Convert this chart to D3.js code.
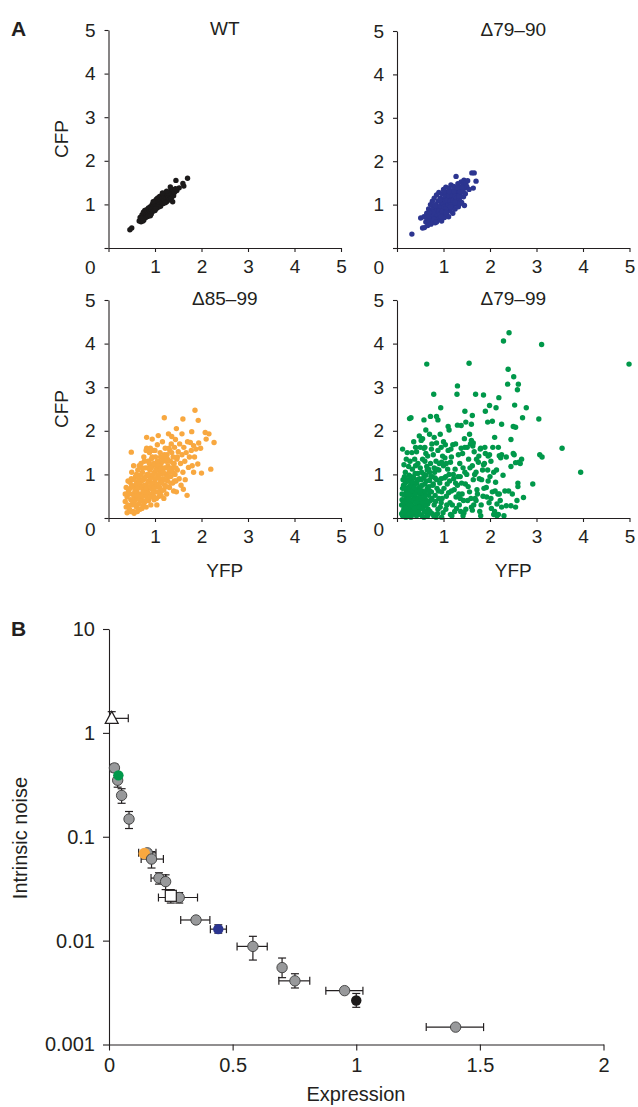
<!DOCTYPE html>
<html><head><meta charset="utf-8">
<script src="https://cdn.jsdelivr.net/npm/d3@7"></script>
<style>body{margin:0;background:#fff}svg{display:block}text{font-family:"Liberation Sans",Arial,Helvetica,sans-serif;fill:#231f20}</style>
</head><body><svg id="c" width="638" height="1107"></svg>
<script>
// ---------- Panel A data: [YFP, CFP] ----------
const wtPoints=[[0.46,0.42],[0.50,0.46],[0.66,0.62],[0.68,0.70],[0.70,0.60],[0.72,0.66],[0.72,0.76],[0.74,0.70],[0.75,0.82],[0.76,0.64],[0.78,0.74],[0.78,0.86],[0.80,0.70],[0.80,0.80],[0.82,0.76],[0.82,0.88],[0.84,0.72],[0.84,0.84],[0.86,0.80],[0.86,0.92],[0.88,0.76],[0.88,0.86],[0.90,0.82],[0.90,0.95],[0.92,0.88],[0.92,0.78],[0.94,0.92],[0.94,1.00],[0.95,0.84],[0.96,0.96],[0.98,0.90],[0.98,1.04],[1.00,0.94],[1.00,1.08],[1.00,0.86],[1.02,1.00],[1.03,1.12],[1.04,0.92],[1.05,1.05],[1.06,1.15],[1.07,0.98],[1.08,1.08],[1.10,1.02],[1.10,1.18],[1.12,1.10],[1.12,0.96],[1.14,1.20],[1.15,1.05],[1.16,1.14],[1.18,1.24],[1.18,1.02],[1.20,1.10],[1.20,1.18],[1.22,1.26],[1.24,1.14],[1.25,1.06],[1.26,1.22],[1.28,1.16],[1.30,1.28],[1.30,1.10],[1.32,1.20],[1.34,1.30],[1.35,1.14],[1.36,1.24],[1.38,1.06],[1.38,1.34],[1.40,1.20],[1.42,1.28],[1.45,1.55],[1.47,1.32],[1.52,1.38],[1.60,1.48],[1.62,1.42],[1.70,1.60],[0.96,1.06],[1.08,0.94],[0.86,0.74],[1.16,1.26],[0.70,0.68],[0.74,0.62],[0.90,0.74],[1.02,0.90],[1.22,1.04],[1.28,1.26],[1.44,1.36],[1.33,1.40],[1.25,1.30]];

const d7990Points=[[0.32,0.32],[0.55,0.46],[0.59,0.47],[0.51,0.69],[0.58,0.72],[0.62,0.60],[0.64,0.80],[0.66,0.52],[0.67,0.68],[0.68,0.90],[0.70,0.62],[0.71,0.76],[0.72,1.00],[0.73,0.55],[0.74,0.85],[0.75,0.68],[0.76,1.08],[0.77,0.60],[0.78,0.92],[0.79,0.74],[0.80,1.15],[0.81,0.82],[0.82,0.58],[0.83,1.00],[0.84,0.70],[0.85,1.22],[0.86,0.88],[0.87,0.64],[0.88,1.08],[0.89,0.78],[0.90,1.28],[0.91,0.95],[0.92,0.70],[0.93,1.15],[0.94,0.85],[0.95,1.05],[0.96,0.62],[0.97,1.25],[0.98,0.92],[0.99,0.78],[1.00,1.12],[1.00,1.35],[1.01,1.00],[1.02,0.70],[1.03,1.20],[1.04,0.88],[1.05,1.40],[1.06,1.05],[1.07,0.78],[1.08,1.28],[1.09,0.95],[1.10,1.15],[1.11,0.72],[1.12,1.38],[1.13,1.02],[1.14,0.86],[1.15,1.25],[1.16,1.45],[1.17,1.10],[1.18,0.92],[1.19,1.32],[1.20,0.80],[1.21,1.18],[1.22,1.42],[1.23,1.00],[1.24,1.28],[1.25,0.90],[1.26,1.12],[1.27,1.65],[1.28,1.35],[1.29,1.02],[1.30,1.22],[1.31,1.48],[1.32,0.95],[1.33,1.30],[1.34,1.12],[1.35,1.40],[1.36,1.20],[1.38,1.52],[1.39,1.05],[1.40,1.32],[1.42,1.45],[1.43,1.18],[1.44,1.56],[1.45,0.98],[1.46,1.38],[1.47,1.25],[1.48,1.50],[1.50,1.42],[1.52,1.55],[1.55,1.35],[1.61,1.73],[1.66,1.73],[1.70,1.54],[1.64,1.38],[0.63,0.70],[0.69,0.74],[0.75,0.78],[0.80,0.66],[0.85,0.78],[0.88,0.95],[0.90,0.85],[0.93,0.78],[0.95,0.95],[0.97,0.85],[0.99,1.02],[1.02,0.94],[1.04,1.08],[1.06,0.92],[1.08,1.10],[1.10,1.00],[1.12,1.20],[1.14,1.08],[1.16,1.00],[1.18,1.22],[1.20,1.10],[1.22,1.30],[1.25,1.20],[1.28,1.15],[1.30,1.38],[1.33,1.20],[1.36,1.30],[1.40,1.40],[0.82,0.98],[0.92,1.10],[1.02,1.30],[1.12,1.30],[0.78,0.82],[0.70,0.82],[0.85,0.60],[0.95,0.72],[1.05,0.82],[1.15,0.95],[1.25,1.05],[1.35,1.02],[1.42,1.30]];

const d8599Points=[[0.36,0.38],[0.38,0.25],[0.40,0.48],[0.42,0.30],[0.43,0.62],[0.45,0.20],[0.46,0.82],[0.48,0.42],[0.49,0.90],[0.50,0.30],[0.52,0.55],[0.53,0.15],[0.55,0.11],[0.49,1.51],[0.54,1.20],[0.56,0.72],[0.57,0.40],[0.58,0.95],[0.60,0.25],[0.61,0.60],[0.62,0.82],[0.63,1.10],[0.64,0.45],[0.65,0.32],[0.66,0.70],[0.67,0.98],[0.68,0.20],[0.69,0.55],[0.70,1.25],[0.71,0.85],[0.72,0.40],[0.73,1.05],[0.74,0.65],[0.75,0.30],[0.76,1.40],[0.77,0.90],[0.78,0.52],[0.79,1.15],[0.80,0.75],[0.81,0.25],[0.82,1.85],[0.82,1.60],[0.83,1.00],[0.84,0.60],[0.85,1.30],[0.86,0.40],[0.87,0.85],[0.88,1.50],[0.89,1.10],[0.90,0.68],[0.91,0.30],[0.92,1.35],[0.93,0.95],[0.94,1.81],[0.94,0.55],[0.95,1.20],[0.96,0.78],[0.97,1.55],[0.98,0.42],[0.99,1.05],[1.00,0.88],[1.01,1.40],[1.02,0.60],[1.03,1.20],[1.04,0.30],[1.05,1.68],[1.06,0.98],[1.07,1.89],[1.07,0.72],[1.08,1.30],[1.09,0.50],[1.10,1.10],[1.11,1.50],[1.12,0.82],[1.13,1.25],[1.14,0.62],[1.15,1.02],[1.16,1.75],[1.17,0.90],[1.18,1.38],[1.19,0.45],[1.20,2.30],[1.20,1.15],[1.21,0.75],[1.22,1.60],[1.23,1.00],[1.24,1.30],[1.25,0.55],[1.26,1.45],[1.27,0.85],[1.28,1.20],[1.29,1.93],[1.30,1.05],[1.31,0.70],[1.32,1.55],[1.33,1.30],[1.34,0.95],[1.35,1.70],[1.36,1.87],[1.37,1.15],[1.38,0.80],[1.39,1.40],[1.40,0.62],[1.41,1.25],[1.42,1.62],[1.43,1.00],[1.44,1.80],[1.45,0.85],[1.46,2.05],[1.46,0.60],[1.47,1.35],[1.48,1.10],[1.50,1.52],[1.52,0.90],[1.53,1.70],[1.55,1.25],[1.56,0.75],[1.58,1.93],[1.58,1.45],[1.60,2.27],[1.60,1.05],[1.61,0.66],[1.62,1.62],[1.64,1.30],[1.65,0.88],[1.67,1.50],[1.69,0.52],[1.70,1.75],[1.72,1.16],[1.74,1.40],[1.76,1.73],[1.78,1.55],[1.79,1.98],[1.80,1.20],[1.83,1.05],[1.83,1.66],[1.85,1.40],[1.86,2.47],[1.88,1.58],[1.92,1.24],[1.93,2.24],[1.94,1.72],[1.98,1.60],[2.00,1.03],[2.08,1.96],[2.10,1.81],[2.16,1.93],[2.20,1.12],[2.27,1.73],[0.45,0.55],[0.47,0.68],[0.50,0.75],[0.52,0.38],[0.54,0.88],[0.55,0.50],[0.57,0.62],[0.58,0.30],[0.60,0.78],[0.60,1.00],[0.62,0.50],[0.63,0.68],[0.65,0.88],[0.66,1.20],[0.67,0.42],[0.68,0.78],[0.70,0.50],[0.70,0.98],[0.72,0.72],[0.72,1.15],[0.74,0.50],[0.75,0.88],[0.76,0.60],[0.77,1.30],[0.78,0.75],[0.79,0.38],[0.80,0.95],[0.81,1.55],[0.82,0.68],[0.83,0.45],[0.84,1.15],[0.85,0.82],[0.86,1.00],[0.87,0.55],[0.88,1.25],[0.89,0.72],[0.90,0.90],[0.90,1.60],[0.91,0.48],[0.92,1.15],[0.93,0.80],[0.94,1.40],[0.95,0.65],[0.96,1.00],[0.97,0.50],[0.98,1.25],[0.99,0.70],[1.00,1.55],[1.01,0.90],[1.02,1.10],[1.03,0.45],[1.04,0.78],[1.05,1.30],[1.06,0.60],[1.08,1.00],[1.09,1.20],[1.10,0.70],[1.11,0.90],[1.12,1.40],[1.13,0.52],[1.14,1.15],[1.15,0.80],[1.16,1.30],[1.18,1.05],[1.19,0.65],[1.20,1.45],[1.22,0.88],[1.24,1.15],[1.25,0.72],[1.27,1.35],[1.28,0.95],[1.30,1.60],[1.32,1.12],[1.34,0.80],[1.36,1.50],[1.38,1.05],[1.40,1.25],[1.42,0.85],[1.45,1.15],[1.48,1.40],[0.40,0.12],[0.62,0.15],[0.72,0.22],[0.38,0.70],[0.42,0.85],[0.36,0.55],[0.50,1.05],[0.48,0.15]];

const d7999Points=[[4.99,3.53],[3.11,3.98],[2.41,4.25],[2.29,4.06],[0.64,3.53],[1.55,3.55],[2.39,3.41],[2.51,3.24],[2.38,3.07],[2.61,3.07],[2.59,2.94],[1.30,3.03],[1.29,2.84],[0.79,2.84],[1.69,2.84],[1.86,2.82],[2.19,2.76],[1.99,2.58],[2.13,2.53],[2.53,2.59],[2.78,2.53],[0.94,2.53],[0.27,2.28],[0.30,2.30],[0.58,2.25],[0.72,2.33],[0.85,2.33],[0.88,2.25],[1.10,2.10],[1.30,2.13],[1.38,2.12],[1.48,2.20],[1.46,2.45],[1.60,2.15],[1.62,2.35],[1.95,2.20],[2.05,2.22],[1.90,2.45],[2.25,2.15],[2.50,2.10],[2.55,2.08],[2.70,2.30],[3.05,2.27],[2.45,1.80],[2.10,1.85],[3.55,1.60],[3.07,1.45],[3.12,1.40],[3.95,1.05],[2.92,0.78],[2.72,0.47],[2.55,0.25],[2.45,0.28],[2.60,0.80],[2.60,0.72],[2.65,1.25],[2.68,1.35],[2.50,1.48],[2.55,1.27],[2.25,1.45],[2.20,1.43],[2.45,1.18],[2.25,0.25],[2.32,0.62],[2.20,0.55],[2.15,0.32],[2.15,0.05],[2.30,0.05],[2.18,0.08],
[0.12,0.05],[0.15,0.22],[0.18,0.40],[0.20,0.60],[0.14,0.75],[0.16,0.95],[0.22,0.12],[0.25,0.30],[0.27,0.50],[0.24,0.70],[0.28,0.85],[0.30,0.02],[0.32,0.18],[0.33,0.38],[0.35,0.58],[0.31,0.72],[0.36,0.92],[0.38,0.08],[0.40,0.26],[0.42,0.45],[0.39,0.64],[0.43,0.80],[0.45,1.02],[0.46,0.15],[0.48,0.35],[0.50,0.55],[0.47,0.70],[0.52,0.88],[0.54,0.05],[0.56,0.22],[0.58,0.42],[0.55,0.62],[0.60,0.78],[0.62,0.98],[0.64,0.12],[0.66,0.32],[0.68,0.52],[0.65,0.68],[0.70,0.86],[0.10,0.30],[0.11,0.55],[0.13,0.15],[0.17,0.68],[0.19,0.30],[0.21,0.48],[0.23,0.88],[0.26,0.20],[0.29,0.62],[0.30,0.40],[0.34,0.10],[0.37,0.48],[0.38,0.78],[0.41,0.12],[0.44,0.58],[0.45,0.32],[0.49,0.20],[0.51,0.72],[0.53,0.30],[0.57,0.55],[0.59,0.15],[0.61,0.60],[0.63,0.40],[0.67,0.20],[0.69,0.72],[0.72,0.40],[0.74,0.60],[0.76,0.10],[0.78,0.78],[0.80,0.30],[0.82,0.52],[0.84,0.02],[0.86,0.68],[0.88,0.20],[0.90,0.45],[0.15,0.05],[0.20,0.85],[0.26,0.98],[0.33,1.12],[0.40,1.20],[0.18,1.05],[0.12,1.58],[0.32,1.50],[0.28,1.30],[0.38,1.35],[0.45,1.25],[0.50,1.15],[0.55,1.35],[0.50,1.62],[0.52,1.78],[0.55,1.82],[0.58,1.60],[0.60,1.30],[0.62,1.48],[0.64,1.18],[0.66,1.42],[0.70,1.05],[0.72,1.25],[0.74,1.58],[0.75,1.70],[0.78,1.45],[0.80,1.15],[0.82,0.92],[0.84,1.30],[0.85,1.72],[0.88,1.55],[0.90,1.10],[0.92,0.80],[0.93,1.92],[0.95,0.35],[0.96,0.60],[0.98,1.42],[1.00,1.20],[1.02,0.92],[1.04,1.68],[1.05,0.20],[1.06,0.50],[1.08,0.78],[1.10,1.55],[1.12,1.00],[1.14,0.35],[1.15,1.28],[1.17,0.62],[1.20,1.68],[1.22,0.90],[1.24,0.15],[1.25,1.12],[1.27,0.48],[1.30,0.75],[1.32,1.45],[1.34,0.30],[1.36,0.95],[1.38,1.60],[1.40,0.55],[1.42,1.15],[1.44,0.12],[1.45,1.82],[1.47,0.78],[1.50,1.00],[1.52,0.40],[1.54,1.35],[1.56,0.60],[1.58,1.70],[1.60,0.25],[1.62,1.20],[1.64,0.88],[1.66,1.52],[1.68,0.45],[1.70,1.05],[1.72,0.65],[1.75,1.28],[1.78,0.15],[1.80,1.60],[1.82,0.88],[1.85,0.50],[1.88,1.25],[1.90,1.48],[1.92,0.70],[1.95,1.10],[1.98,0.35],[2.00,0.95],[2.02,1.30],[2.05,0.60],[2.08,1.05],[2.10,0.15],[2.12,0.82],[2.18,1.62],[2.22,0.40],
[0.10,0.10],[0.11,0.42],[0.12,0.68],[0.13,0.88],[0.14,0.35],[0.16,0.52],[0.17,0.12],[0.18,0.80],[0.19,0.02],[0.20,0.22],[0.21,0.38],[0.22,0.68],[0.23,0.55],[0.24,0.05],[0.25,0.85],[0.26,0.42],[0.27,0.10],[0.28,0.30],[0.29,0.75],[0.30,0.55],[0.31,0.95],[0.32,0.28],[0.33,0.62],[0.34,0.82],[0.35,0.15],[0.36,0.40],[0.37,0.70],[0.38,0.22],[0.39,1.02],[0.40,0.55],[0.41,0.35],[0.42,0.05],[0.43,0.65],[0.44,0.88],[0.46,0.45],[0.47,0.25],[0.48,0.90],[0.49,0.62],[0.50,0.08],[0.52,0.45],[0.53,1.05],[0.54,0.75],[0.56,0.35],[0.57,0.92],[0.58,0.02],[0.60,0.50],[0.62,0.28],[0.63,0.85],[0.65,1.10],[0.66,0.05],[0.68,0.38],[0.70,0.62],[0.71,0.15],[0.73,0.95],[0.75,0.45],[0.77,0.75],[0.79,0.05],[0.81,1.05],[0.83,0.38],[0.85,0.88],[0.87,0.10],[0.89,0.62],[0.91,1.25],[0.93,0.25],[0.95,0.90],[0.97,0.45],[0.99,0.12],[1.01,0.68],[1.03,1.38],[1.05,0.95],[1.07,0.30],[1.09,1.12],[1.11,0.58],[1.13,0.85],[1.15,0.08],[1.17,1.40],[1.19,0.30],[1.21,1.00],[1.23,0.65],[1.26,1.70],[1.28,0.22],[1.31,0.95],[1.33,0.55],[1.35,1.25],[1.37,0.15],[1.39,0.80],[1.41,1.48],[1.43,0.40],[1.46,1.05],[1.48,0.20],[1.51,1.62],[1.53,0.72],[1.57,1.15],[1.59,0.45],[1.63,1.65],[1.65,0.30],[1.67,1.00],[1.71,1.35],[1.73,0.55],[1.77,0.90],[1.79,1.58],[1.81,0.30],[1.84,1.10],[1.87,0.68],[1.89,1.62],[1.93,0.48],[1.96,0.85],[1.99,1.45],[2.03,0.22],[2.06,1.62],[2.11,0.62],[2.14,1.10],[2.17,0.55],[2.23,1.38],[2.28,0.98],[2.35,1.40],[2.40,0.62],[2.48,0.55],[2.52,1.45],[2.58,0.40],[2.62,1.28],[2.35,0.28],[2.08,0.08],[1.62,0.18],[1.42,0.05],[1.70,0.40],[0.96,0.02],[1.18,0.05],[0.62,2.02],[0.48,1.88],[0.36,1.75],[0.42,1.52],[0.70,1.92],[1.00,1.75],[1.12,2.02],[0.80,1.85],[0.95,1.62],[0.60,1.62],[0.40,1.62],[0.25,1.18],[0.20,1.35],[0.15,1.22],[0.22,1.50],[0.58,1.00],[0.68,1.12],[0.76,0.95],[0.86,1.12],[0.96,1.28],[1.06,1.25],[1.16,1.58],[1.26,0.80],[1.36,0.45],[1.46,1.62],[1.56,1.92],[1.60,1.78],[1.64,1.72],[1.76,1.42],[1.86,1.22],[1.80,0.05],[1.96,1.42],[2.02,0.45]];

// ---------- Panel B data ----------
const bExpression=[0.011,0.022,0.035,0.038,0.051,0.081,0.155,0.143,0.172,0.202,0.229,0.284,0.25,0.352,0.442,0.582,0.70,0.752,0.953,1.0,1.402];
const bNoise=[1.38,0.46,0.35,0.39,0.25,0.148,0.07,0.069,0.061,0.040,0.037,0.026,0.027,0.0158,0.0129,0.0088,0.0055,0.0041,0.0033,0.00265,0.00147];
const bXlo=[null,null,null,null,null,null,0.12,null,0.13,0.17,null,0.20,null,0.29,0.41,0.518,0.69,0.687,0.877,null,1.283];
const bXhi=[0.078,null,null,null,null,null,0.19,null,0.22,0.23,null,0.358,null,0.408,0.475,0.64,0.71,0.812,1.027,null,1.515];
const bYlo=[1.25,0.42,0.30,null,0.21,0.12,0.063,null,0.05,0.035,0.031,0.023,0.023,null,0.0118,0.0065,0.0044,0.0035,null,0.00228,null];
const bYhi=[1.60,0.50,0.39,null,0.29,0.175,0.075,null,0.072,0.045,0.043,0.029,0.031,null,0.0142,0.011,0.0068,0.0048,null,0.0031,null];
const bKind=["triangle","grey","grey","green","grey","grey","grey","orange","grey","grey","grey","grey","square","grey","blue","grey","grey","grey","grey","black","grey"];
const bYTicks=[0.001,0.01,0.1,1,10];
const bYTickLabels=["0.001","0.01","0.1","1","10"];
const bXTicks=[0,0.5,1,1.5,2];
const aTicks=[0,1,2,3,4,5];

// ---------- drawing ----------
const svg=d3.select("#c");
const axisCol="#231f20";
const colors={black:"#1c1a1a",blue:"#2c3590",orange:"#f8a840",green:"#00984a",grey:"#98999b"};
const fsA=19, fsB=20;

function styleAxis(g,fs){
  g.selectAll("path,line").attr("stroke",axisCol).attr("stroke-width",1.1);
  g.selectAll("text").attr("font-size",fs).attr("fill",axisCol).attr("font-family","Liberation Sans, Arial, sans-serif");
}

const panels=[
  {pts:wtPoints,color:colors.black,title:"WT",x0:108.5,x1:341,yb:248,yt:30,cfp:true,yfp:false},
  {pts:d7990Points,color:colors.blue,title:"\u039479\u201390",x0:397,x1:629.5,yb:248,yt:31,cfp:false,yfp:false},
  {pts:d8599Points,color:colors.orange,title:"\u039485\u201399",x0:108.5,x1:341,yb:518,yt:300,cfp:true,yfp:true},
  {pts:d7999Points,color:colors.green,title:"\u039479\u201399",x0:397,x1:629.5,yb:518,yt:300,cfp:false,yfp:true}
];

panels.forEach(p=>{
  const x=d3.scaleLinear().domain([0,5]).range([p.x0,p.x1]);
  const y=d3.scaleLinear().domain([0,5]).range([p.yb,p.yt]);
  const g=svg.append("g");
  g.append("g").selectAll("circle").data(p.pts).join("circle")
    .attr("cx",d=>x(d[0])).attr("cy",d=>y(d[1])).attr("r",2.7).attr("fill",p.color);
  const ya=g.append("g").attr("transform",`translate(${p.x0},0)`)
    .call(d3.axisLeft(y).tickValues(aTicks).tickSize(4).tickSizeOuter(0).tickPadding(9).tickFormat(d=>d===0?"":d));
  const xa=g.append("g").attr("transform",`translate(0,${p.yb})`)
    .call(d3.axisBottom(x).tickValues(aTicks).tickSize(4).tickSizeOuter(0).tickPadding(8).tickFormat(d=>d===0?"":d));
  styleAxis(ya,fsA); styleAxis(xa,fsA);
  g.append("text").attr("x",p.x0-13).attr("y",p.yb+(p.yfp?18:26)).attr("text-anchor","end")
    .attr("font-size",fsA).text("0");
  g.append("text").attr("x",(p.x0+p.x1)/2).attr("y",p.yt+5).attr("text-anchor","middle")
    .attr("font-size",fsA).text(p.title);
  if(p.cfp){
    g.append("text").attr("transform",`translate(68,${(p.yb+p.yt)/2}) rotate(-90)`)
      .attr("text-anchor","middle").attr("font-size",fsA).text("CFP");
  }
  if(p.yfp){
    g.append("text").attr("x",(p.x0+p.x1)/2).attr("y",p.yb+59).attr("text-anchor","middle")
      .attr("font-size",fsA).text("YFP");
  }
});

svg.append("text").attr("x",11).attr("y",36).attr("font-size",21).attr("font-weight","bold").text("A");
svg.append("text").attr("x",11).attr("y",636).attr("font-size",21).attr("font-weight","bold").text("B");

// Panel B
const bx=d3.scaleLinear().domain([0,2]).range([109,603.5]);
const by=d3.scaleLog().domain([0.001,10]).range([1044.5,629]);
const gB=svg.append("g");
const yaB=gB.append("g").attr("transform","translate(109,0)")
  .call(d3.axisLeft(by).tickValues(bYTicks).tickSize(6).tickSizeOuter(0).tickPadding(8).tickFormat((d,i)=>bYTickLabels[i]));
const xaB=gB.append("g").attr("transform","translate(0,1044.5)")
  .call(d3.axisBottom(bx).tickValues(bXTicks).tickSize(6).tickSizeOuter(0).tickPadding(7).tickFormat(d3.format("")));
styleAxis(yaB,fsB); styleAxis(xaB,fsB);
gB.append("text").attr("transform","translate(27,838) rotate(-90)").attr("text-anchor","middle").attr("font-size",fsB).text("Intrinsic noise");
gB.append("text").attr("x",356).attr("y",1101).attr("text-anchor","middle").attr("font-size",fsB).text("Expression");

const idx=d3.range(bExpression.length);
const eb=gB.append("g").attr("stroke",axisCol).attr("stroke-width",1.2);
const cap=4;
idx.forEach(i=>{
  const cx=bx(bExpression[i]), cy=by(bNoise[i]);
  if(bYlo[i]!==null){
    const y1=by(bYlo[i]), y2=by(bYhi[i]);
    eb.append("line").attr("x1",cx).attr("x2",cx).attr("y1",y1).attr("y2",y2);
    eb.append("line").attr("x1",cx-cap).attr("x2",cx+cap).attr("y1",y1).attr("y2",y1);
    eb.append("line").attr("x1",cx-cap).attr("x2",cx+cap).attr("y1",y2).attr("y2",y2);
  }
  if(bXhi[i]!==null){
    const x1=bXlo[i]!==null?bx(bXlo[i]):cx, x2=bx(bXhi[i]);
    eb.append("line").attr("x1",x1).attr("x2",x2).attr("y1",cy).attr("y2",cy);
    if(bXlo[i]!==null) eb.append("line").attr("x1",x1).attr("x2",x1).attr("y1",cy-cap).attr("y2",cy+cap);
    eb.append("line").attr("x1",x2).attr("x2",x2).attr("y1",cy-cap).attr("y2",cy+cap);
  }
});
const mk=gB.append("g");
idx.forEach(i=>{
  const cx=bx(bExpression[i]), cy=by(bNoise[i]), k=bKind[i];
  if(k==="triangle"){
    mk.append("path").attr("d",`M${cx},${cy-7}L${cx+6.5},${cy+5}L${cx-6.5},${cy+5}Z`)
      .attr("fill","#fff").attr("stroke",axisCol).attr("stroke-width",1.2);
  } else if(k==="square"){
    mk.append("rect").attr("x",cx-5.5).attr("y",cy-5.5).attr("width",11).attr("height",11)
      .attr("fill","#fff").attr("stroke",axisCol).attr("stroke-width",1.2);
  } else if(k==="grey"){
    mk.append("circle").attr("cx",cx).attr("cy",cy).attr("r",5.2).attr("fill",colors.grey).attr("stroke","#3a3a3a").attr("stroke-width",0.9);
  } else {
    mk.append("circle").attr("cx",cx).attr("cy",cy).attr("r",k==="orange"?5.8:5.2).attr("fill",colors[k]);
  }
});
</script></body></html>
